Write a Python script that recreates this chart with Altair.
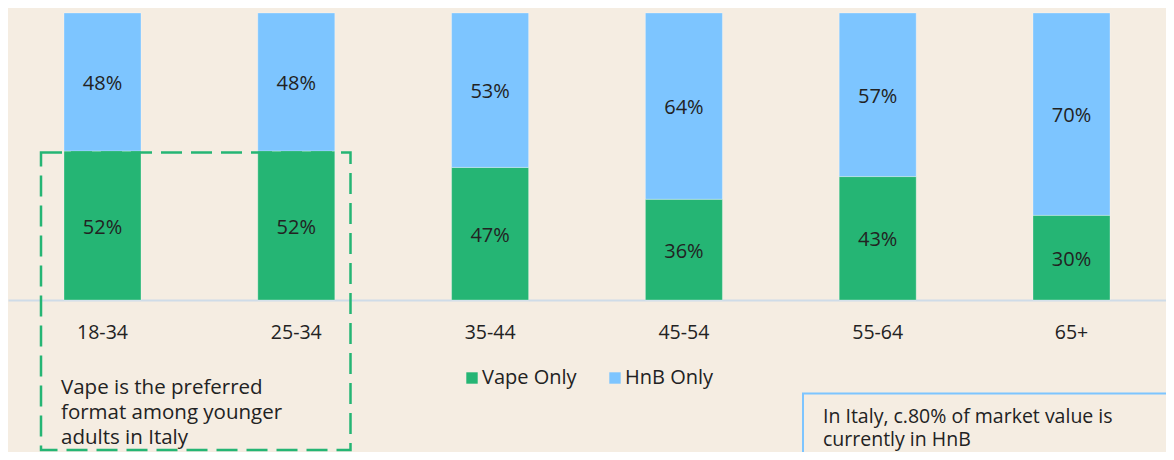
import altair as alt
import pandas as pd

# ---- data ----
ages = ["18-34", "25-34", "35-44", "45-54", "55-64", "65+"]
vape = [51.9, 51.9, 46.2, 35.1, 43.0, 29.5]
hnb = [48.1, 48.1, 53.8, 64.9, 57.0, 70.5]
vape_labels = ["52%", "52%", "47%", "36%", "43%", "30%"]
hnb_labels = ["48%", "48%", "53%", "64%", "57%", "70%"]
series_names = ["Vape Only", "HnB Only"]
series_colors = ["#25B574", "#7DC5FF"]
note_left = ["Vape is the preferred", "format among younger", "adults in Italy"]
note_right = ["In Italy, c.80% of market value is", "currently in HnB"]

rows = []
for i, a in enumerate(ages):
    rows.append(dict(age=a, series=series_names[0], start=0.0, end=vape[i], label=vape_labels[i]))
    rows.append(dict(age=a, series=series_names[1], start=vape[i], end=vape[i] + hnb[i], label=hnb_labels[i]))
df = pd.DataFrame(rows)
df["mid"] = (df["start"] + df["end"]) / 2

FONT = "Open Sans"
TXT = "#222222"
BG = "#F5EDE2"

x_enc = alt.X(
    "age:N", sort=ages,
    scale=alt.Scale(paddingInner=0.6027, paddingOuter=0.289),
    axis=alt.Axis(title=None, labelAngle=0, ticks=False, domainColor="#CFDCE8",
                  domainWidth=2, labelFontSize=19.5, labelColor=TXT, labelFont=FONT,
                  labelPadding=23, grid=False),
)
y_scale = alt.Scale(domain=[0, 101.742], nice=False, zero=True)

bars = alt.Chart(df).mark_bar(stroke="#ffffff", strokeOpacity=0.3, strokeWidth=1).encode(
    x=x_enc,
    y=alt.Y("start:Q", scale=y_scale, axis=None),
    y2="end:Q",
    color=alt.Color(
        "series:N",
        scale=alt.Scale(domain=series_names, range=series_colors),
        legend=alt.Legend(title=None, orient="none", legendX=454, legendY=360,
                          direction="horizontal", symbolType="square", symbolSize=130,
                          symbolStrokeWidth=0, symbolOpacity=1, labelFontSize=20,
                          labelFont=FONT, labelColor=TXT, labelOffset=0,
                          columnPadding=28, padding=0),
    ),
)

labels = alt.Chart(df).mark_text(font=FONT, fontSize=20, color=TXT, dy=2).encode(
    x=alt.X("age:N", sort=ages),
    y=alt.Y("mid:Q", scale=y_scale),
    text="label:N",
)

one = alt.Data(values=[{"k": 1}])

box_left = alt.Chart(one).mark_rect(
    fillOpacity=0, stroke="#25B574", strokeWidth=2.5, strokeDash=[21, 9]
).encode(x=alt.value(33), x2=alt.value(342.5), y=alt.value(144.5), y2=alt.value(442))

box_right = alt.Chart(one).mark_rect(
    fillOpacity=0, stroke="#7DC5FF", strokeWidth=2
).encode(x=alt.value(795), x2=alt.value(1250), y=alt.value(385.5), y2=alt.value(520))

text_left = alt.Chart(one).mark_text(
    font=FONT, fontSize=20.5, color=TXT, align="left", baseline="alphabetic",
    lineHeight=25, text=note_left
).encode(x=alt.value(53), y=alt.value(386))

text_right = alt.Chart(one).mark_text(
    font=FONT, fontSize=19.5, color=TXT, align="left", baseline="alphabetic",
    lineHeight=23, text=note_right
).encode(x=alt.value(815), y=alt.value(415))

chart = alt.layer(bars, labels, box_left, box_right, text_left, text_right).properties(
    width=1158, height=292,
    autosize=alt.AutoSizeParams(type="none"),
    padding={"left": 0, "top": 0, "right": 0, "bottom": 152},
    background=BG,
).configure_view(stroke=None)

chart.save("out.html", embed_options={"renderer": "svg", "actions": False})
